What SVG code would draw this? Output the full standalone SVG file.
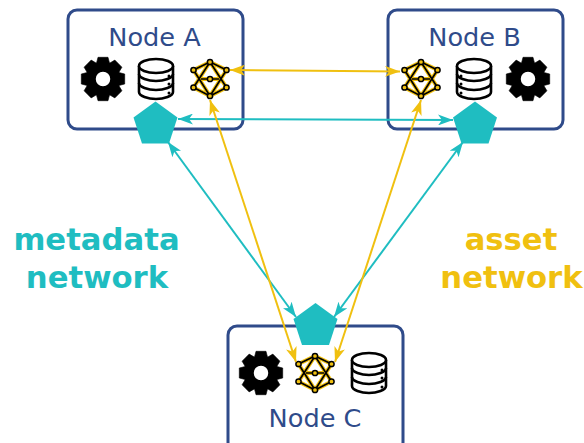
<svg xmlns="http://www.w3.org/2000/svg" width="584" height="443" viewBox="0 0 584 443">
<style>
.box{fill:#fff;stroke:#2f4b8a;stroke-width:3}
.name{font-family:"DejaVu Sans",sans-serif;font-size:25.6px;fill:#2f4b8a;text-anchor:middle}
.lab{font-family:"DejaVu Sans",sans-serif;font-size:30.7px;font-weight:bold;text-anchor:middle}
.pent{fill:#1fbdc1}
.t{stroke:#1fbdc1;stroke-width:2;fill:none;marker-start:url(#mt);marker-end:url(#mt)}
.y{stroke:#f0c010;stroke-width:2;fill:none;marker-start:url(#my);marker-end:url(#my)}
.nl{stroke:#000;stroke-width:1.7;fill:none}
.nh{stroke:#f0c010;stroke-width:4;fill:none;stroke-linejoin:round}
.nc{fill:#f0c010;stroke:#000;stroke-width:1.5}
</style>
<defs>
<marker id="mt" viewBox="0 0 15 11" refX="15" refY="5.500" markerWidth="15" markerHeight="11" markerUnits="userSpaceOnUse" orient="auto-start-reverse"><path d="M15 5.500L0 0L4 5.500L0 11Z" fill="#1fbdc1"/></marker>
<marker id="my" viewBox="0 0 15 11" refX="15" refY="5.500" markerWidth="15" markerHeight="11" markerUnits="userSpaceOnUse" orient="auto-start-reverse"><path d="M15 5.500L0 0L4 5.500L0 11Z" fill="#f0c010"/></marker>
<path id="tooth" d="M-7-14L-5-21.700H5L7-14Z" fill="#000" stroke="#000" stroke-width="0.6" stroke-linejoin="round"/>
<g id="gear">
<circle r="12" fill="none" stroke="#000" stroke-width="9.500"/>
<use href="#tooth"/><use href="#tooth" transform="rotate(45)"/><use href="#tooth" transform="rotate(90)"/><use href="#tooth" transform="rotate(135)"/><use href="#tooth" transform="rotate(180)"/><use href="#tooth" transform="rotate(225)"/><use href="#tooth" transform="rotate(270)"/><use href="#tooth" transform="rotate(315)"/>
</g>
<g id="db" fill="none" stroke="#000" stroke-width="2.600">
<path d="M-17-13V13C-17 17 -8 20 0 20S17 17 17 13V-13" fill="#fff"/>
<ellipse cx="0" cy="-13" rx="17" ry="7" fill="#fff"/>
<path d="M-17-5C-17-1 -8 2 0 2S17-1 17-5M-17 4C-17 8 -8 11 0 11S17 8 17 4"/>
<g fill="#000" stroke="none"><circle cx="13" cy="-3" r="1.500"/><circle cx="13" cy="5" r="1.500"/><circle cx="13" cy="14" r="1.500"/></g>
</g>
<path id="netp" d="M0-17L-16.500-9M0-17L16.500-9M0 17L-16.500 8.500M0 17L16.500 8.500M0-17L-16.500 8.500M0-17L16.500 8.500M0 17L-16.500-9M0 17L16.500-9M-9 0H9"/>
<g id="net">
<use href="#netp" class="nh"/>
<use href="#netp" class="nl"/>
<g class="nc"><circle cx="0" cy="-17" r="2.600"/><circle cx="-16.500" cy="-9" r="2.600"/><circle cx="16.500" cy="-9" r="2.600"/><circle cx="-16.500" cy="8.500" r="2.600"/><circle cx="16.500" cy="8.500" r="2.600"/><circle cx="0" cy="17" r="2.600"/><circle cx="0" cy="0" r="2.600"/></g>
</g>
<path id="pe" d="M0-22L22-6L13.500 20H-13.500L-22-6Z"/>
</defs>
<g id="nodeA">
<rect class="box" x="68" y="10" width="175" height="119" rx="9"/>
<text class="name" x="154.500" y="45.500">Node A</text>
<use href="#gear" x="103" y="79"/><use href="#db" x="156" y="79"/><use href="#net" x="210" y="79"/>
<use href="#pe" class="pent" x="155.500" y="123.500"/>
</g>
<g id="nodeB">
<rect class="box" x="388" y="10" width="175" height="119" rx="9"/>
<text class="name" x="474.500" y="45.500">Node B</text>
<use href="#net" x="421" y="79"/><use href="#db" transform="translate(474 79) scale(-1 1)"/><use href="#gear" x="528" y="79"/>
<use href="#pe" class="pent" x="475" y="123.500"/>
</g>
<g id="nodeC">
<rect class="box" x="228" y="326" width="175" height="125" rx="9"/>
<text class="name" x="315" y="427">Node C</text>
<use href="#gear" x="261" y="373"/><use href="#net" x="315" y="373"/><use href="#db" x="369" y="373"/>
<use href="#pe" class="pent" x="315.500" y="325"/>
</g>
<g id="connectors">
<line class="y" x1="230" y1="70" x2="400" y2="71.500"/>
<line class="t" x1="178" y1="119" x2="453" y2="120"/>
<line class="t" x1="168" y1="142" x2="296" y2="317"/>
<line class="t" x1="463" y1="142" x2="334" y2="317"/>
<line class="y" x1="210" y1="100" x2="296" y2="362"/>
<line class="y" x1="421" y1="100" x2="335" y2="362"/>
</g>
<text class="lab" x="96.500" y="250" fill="#1fbdc1">metadata</text>
<text class="lab" x="97" y="288" fill="#1fbdc1">network</text>
<text class="lab" x="511" y="250" fill="#f0c010">asset</text>
<text class="lab" x="511.500" y="288" fill="#f0c010">network</text>
</svg>
